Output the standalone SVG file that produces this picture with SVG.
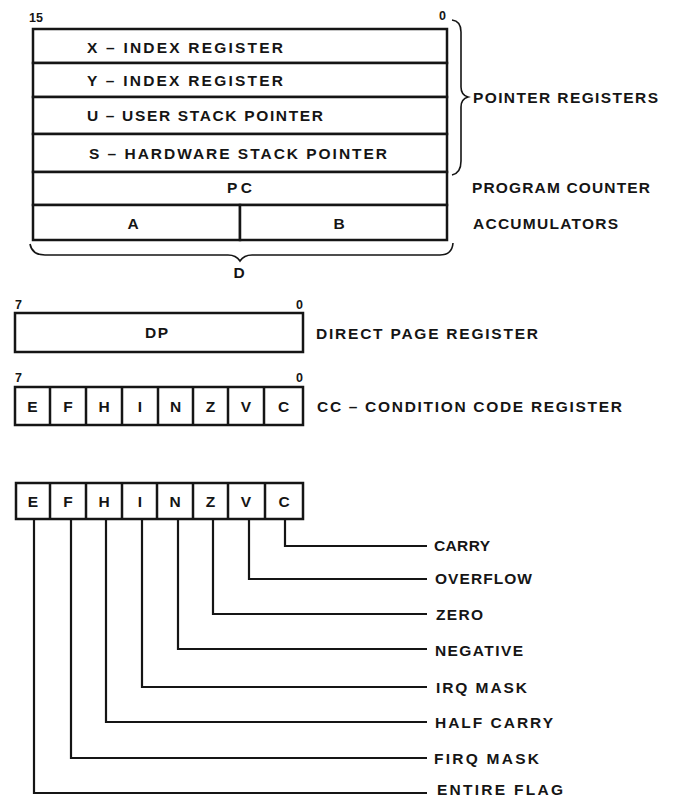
<svg xmlns="http://www.w3.org/2000/svg" width="675" height="798" viewBox="0 0 675 798">
<style>
text{font-family:"Liberation Sans",Arial,sans-serif;font-weight:bold;fill:#151515}
.lbl{font-size:15.5px}
.bit{font-size:12.5px}
.mid{text-anchor:middle}
.box{fill:#fff;stroke:#151515;stroke-width:2.5}
.div{stroke:#151515;stroke-width:2.5}
.ln{fill:none;stroke:#151515;stroke-width:2.2}
.brace{fill:none;stroke:#151515;stroke-width:1.6}
</style>
<rect width="675" height="798" fill="#fff"/>

<g id="bits16">
<text class="bit" x="29" y="22">15</text>
<text class="bit" x="439" y="20">0</text>
</g>
<g id="reg-x"><rect class="box" x="33" y="29" width="414" height="34"/><text class="lbl" x="87" y="53" textLength="196" lengthAdjust="spacing">X – INDEX REGISTER</text></g>
<g id="reg-y"><rect class="box" x="33" y="63" width="414" height="34"/><text class="lbl" x="87" y="86" textLength="196" lengthAdjust="spacing">Y – INDEX REGISTER</text></g>
<g id="reg-u"><rect class="box" x="33" y="97" width="414" height="37"/><text class="lbl" x="87" y="121" textLength="236" lengthAdjust="spacing">U – USER STACK POINTER</text></g>
<g id="reg-s"><rect class="box" x="33" y="134" width="414" height="38"/><text class="lbl" x="89" y="159" textLength="298" lengthAdjust="spacing">S – HARDWARE STACK POINTER</text></g>
<g id="reg-pc"><rect class="box" x="33" y="172" width="414" height="33"/><text class="lbl" x="227" y="193" textLength="25" lengthAdjust="spacing">PC</text></g>
<g id="reg-a"><rect class="box" x="33" y="205" width="207" height="35"/><text class="lbl mid" x="133" y="229">A</text></g>
<g id="reg-b"><rect class="box" x="240" y="205" width="207" height="35"/><text class="lbl mid" x="339" y="229">B</text></g>

<g id="brace-pointer">
<path class="brace" d="M452,20 Q461,21 461,32 L461,87 Q461,95 468,97 Q461,99 461,107 L461,161 Q461,173 452,175"/>
<text class="lbl" x="473" y="103" textLength="185" lengthAdjust="spacing">POINTER REGISTERS</text>
</g>
<g id="label-pc"><text class="lbl" x="472" y="193" textLength="178" lengthAdjust="spacing">PROGRAM COUNTER</text></g>
<g id="label-acc"><text class="lbl" x="473" y="229" textLength="145" lengthAdjust="spacing">ACCUMULATORS</text></g>
<g id="brace-d">
<path class="brace" d="M30,244 Q32,255 45,255 L228,255 Q236,255 240,261 Q244,255 252,255 L440,255 Q452,255 453,243"/>
<text class="lbl mid" x="239" y="278">D</text>
</g>

<g id="reg-dp">
<text class="bit" x="15" y="309">7</text>
<text class="bit" x="296" y="309">0</text>
<rect class="box" x="15" y="313" width="288" height="39"/>
<text class="lbl" x="145" y="338" textLength="23" lengthAdjust="spacing">DP</text>
<text class="lbl" x="316" y="339" textLength="222" lengthAdjust="spacing">DIRECT PAGE REGISTER</text>
</g>

<g id="reg-cc">
<text class="bit" x="15" y="382">7</text>
<text class="bit" x="296" y="382">0</text>
<rect class="box" x="15" y="387" width="288" height="38"/>
<path class="div" d="M50,387V425M86,387V425M122,387V425M158,387V425M193,387V425M228,387V425M264,387V425"/>
<text class="lbl mid" x="32.5" y="412">E</text>
<text class="lbl mid" x="68" y="412">F</text>
<text class="lbl mid" x="104" y="412">H</text>
<text class="lbl mid" x="140" y="412">I</text>
<text class="lbl mid" x="175.5" y="412">N</text>
<text class="lbl mid" x="210.5" y="412">Z</text>
<text class="lbl mid" x="246" y="412">V</text>
<text class="lbl mid" x="283.5" y="412">C</text>
<text class="lbl" x="317" y="412" textLength="305" lengthAdjust="spacing">CC – CONDITION CODE REGISTER</text>
</g>

<g id="reg-flags">
<rect class="box" x="16" y="483" width="287" height="36"/>
<path class="div" d="M50,483V519M86,483V519M122,483V519M157,483V519M193,483V519M228,483V519M265,483V519"/>
<text class="lbl mid" x="33" y="507">E</text>
<text class="lbl mid" x="68" y="507">F</text>
<text class="lbl mid" x="104" y="507">H</text>
<text class="lbl mid" x="140" y="507">I</text>
<text class="lbl mid" x="175" y="507">N</text>
<text class="lbl mid" x="210.5" y="507">Z</text>
<text class="lbl mid" x="246" y="507">V</text>
<text class="lbl mid" x="284" y="507">C</text>
</g>

<g id="connectors">
<path class="ln" d="M285,519V546H427"/>
<path class="ln" d="M249,519V579H427"/>
<path class="ln" d="M213,519V614H427"/>
<path class="ln" d="M178,519V649H427"/>
<path class="ln" d="M142,519V687H427"/>
<path class="ln" d="M106,519V722H427"/>
<path class="ln" d="M71,519V758H427"/>
<path class="ln" d="M34,519V793H427"/>
</g>

<g id="flag-labels">
<text class="lbl" x="434" y="551" textLength="56" lengthAdjust="spacing">CARRY</text>
<text class="lbl" x="435" y="584" textLength="97" lengthAdjust="spacing">OVERFLOW</text>
<text class="lbl" x="436" y="620" textLength="47" lengthAdjust="spacing">ZERO</text>
<text class="lbl" x="435" y="656" textLength="88" lengthAdjust="spacing">NEGATIVE</text>
<text class="lbl" x="436" y="693" textLength="91" lengthAdjust="spacing">IRQ MASK</text>
<text class="lbl" x="435" y="728" textLength="118" lengthAdjust="spacing">HALF CARRY</text>
<text class="lbl" x="434" y="764" textLength="105" lengthAdjust="spacing">FIRQ MASK</text>
<text class="lbl" x="437" y="795" textLength="126" lengthAdjust="spacing">ENTIRE FLAG</text>
</g>
</svg>
